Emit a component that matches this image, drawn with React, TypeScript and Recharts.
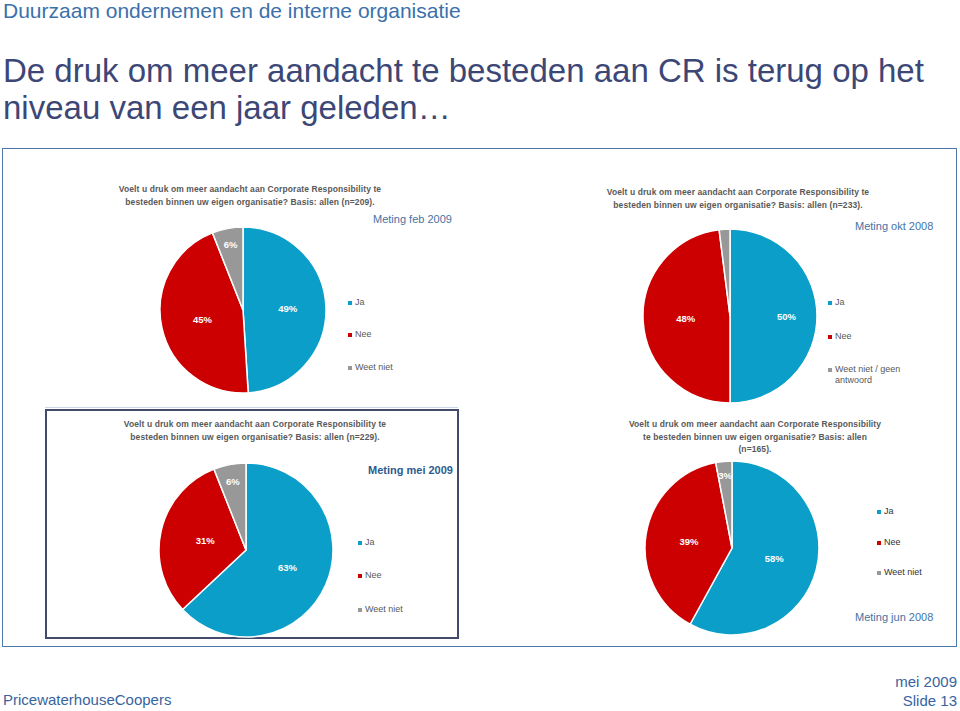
import React from 'react';
import { PieChart, Pie, Cell } from 'recharts';

// categories per meting
const categories = ['Ja', 'Nee', 'Weet niet'];
const oktCategories = ['Ja', 'Nee', 'Weet niet / geen antwoord'];

// percentages
const febValues = [49, 45, 6];
const oktValues = [50, 48, 2];
const meiValues = [63, 31, 6];
const junValues = [58, 39, 3];

const COLORS = ['#0a9ec8', '#cc0000', '#989898'];
const FONT = '"Liberation Sans", Arial, sans-serif';

const toRows = (cats: string[], vals: number[]) =>
  cats.map((name, i) => ({ name, value: vals[i] }));

type Panel = {
  key: string;
  rows: { name: string; value: number }[];
  cx: number;
  cy: number;
  r: number;
  labelR: number[]; // 0 = no label
};

const panels: Panel[] = [
  { key: 'feb', rows: toRows(categories, febValues), cx: 238, cy: 305, r: 83, labelR: [0.54, 0.5, 0.8] },
  { key: 'okt', rows: toRows(oktCategories, oktValues), cx: 725, cy: 311, r: 87, labelR: [0.65, 0.51, 0] },
  { key: 'mei', rows: toRows(categories, meiValues), cx: 241, cy: 545, r: 87, labelR: [0.52, 0.48, 0.8] },
  { key: 'jun', rows: toRows(categories, junValues), cx: 727, cy: 543, r: 87, labelR: [0.5, 0.5, 0.84] },
];

const makeLabel = (factors: number[]) => (props: any) => {
  const { cx, cy, midAngle, outerRadius, index, value } = props;
  const f = factors[index];
  if (!f) return null;
  const RAD = Math.PI / 180;
  const x = cx + outerRadius * f * Math.cos(-midAngle * RAD);
  const y = cy + outerRadius * f * Math.sin(-midAngle * RAD);
  return (
    <text
      x={x}
      y={y}
      fill="#fff"
      fontSize={9.5}
      fontWeight="bold"
      fontFamily={FONT}
      textAnchor="middle"
      dominantBaseline="central"
    >
      {`${value}%`}
    </text>
  );
};

function Question({ lines, cx, top }: { lines: string[]; cx: number; top: number }) {
  return (
    <div
      style={{
        position: 'absolute',
        left: cx - 170,
        top,
        width: 340,
        textAlign: 'center',
        fontSize: 8.5,
        fontWeight: 'bold',
        lineHeight: '12.5px',
        letterSpacing: 0.1,
        color: '#595959',
      }}
    >
      {lines.map((l) => (
        <div key={l}>{l}</div>
      ))}
    </div>
  );
}

function LegendBox({
  items,
  x,
  ys,
  color = '#595959',
}: {
  items: string[];
  x: number;
  ys: number[];
  color?: string;
}) {
  return (
    <>
      {items.map((name, i) => (
        <div key={name} style={{ position: 'absolute', left: x, top: ys[i] - 6, fontSize: 9, lineHeight: '11px', color }}>
          <span
            style={{
              position: 'absolute',
              left: 0,
              top: 4,
              width: 4,
              height: 4,
              background: COLORS[i],
            }}
          />
          <div style={{ marginLeft: 7, width: 70 }}>{name}</div>
        </div>
      ))}
    </>
  );
}

function Meting({ text, x, y, bold = false }: { text: string; x: number; y: number; bold?: boolean }) {
  return (
    <div
      style={{
        position: 'absolute',
        left: x,
        top: y - 7,
        fontSize: 11,
        lineHeight: '14px',
        fontWeight: bold ? 'bold' : 'normal',
        color: bold ? '#2e5b8f' : '#4573a3',
        whiteSpace: 'nowrap',
      }}
    >
      {text}
    </div>
  );
}

export default function App() {
  return (
    <div
      style={{
        position: 'absolute',
        left: 0,
        top: 0,
        width: 960,
        height: 711,
        background: '#fff',
        fontFamily: FONT,
        overflow: 'hidden',
      }}
    >
      <div style={{ position: 'absolute', left: 3, top: 0, fontSize: 21, lineHeight: '22px', color: '#3b70ab', whiteSpace: 'nowrap' }}>
        Duurzaam ondernemen en de interne organisatie
      </div>
      <div style={{ position: 'absolute', left: 3, top: 52, fontSize: 33, lineHeight: '37px', color: '#3c4776', whiteSpace: 'nowrap' }}>
        <div>De druk om meer aandacht te besteden aan CR is terug op het</div>
        <div>niveau van een jaar geleden…</div>
      </div>

      {/* frames */}
      <div style={{ position: 'absolute', left: 2, top: 148, width: 953, height: 497, border: '1.5px solid #5079a9' }} />
      <div style={{ position: 'absolute', left: 45, top: 407, width: 413, height: 1, background: '#cbd7e6' }} />
      <div style={{ position: 'absolute', left: 45, top: 409, width: 410, height: 226, border: '2px solid #444a6b' }} />

      <div style={{ position: 'absolute', left: 0, top: 0 }}>
        <PieChart width={960} height={711}>
          {panels.map((p) => (
            <Pie
              key={p.key}
              data={p.rows}
              dataKey="value"
              nameKey="name"
              cx={p.cx}
              cy={p.cy}
              outerRadius={p.r}
              startAngle={90}
              endAngle={-270}
              stroke="#fff"
              strokeWidth={1.5}
              labelLine={false}
              label={makeLabel(p.labelR)}
              isAnimationActive={false}
            >
              {p.rows.map((row, i) => (
                <Cell key={row.name} fill={COLORS[i]} />
              ))}
            </Pie>
          ))}
        </PieChart>
      </div>

      {/* feb 2009 */}
      <Question
        cx={250}
        top={183}
        lines={['Voelt u druk om meer aandacht aan Corporate Responsibility te', 'besteden binnen uw eigen organisatie? Basis: allen (n=209).']}
      />
      <Meting text="Meting feb 2009" x={373} y={219} />
      <LegendBox items={categories} x={348} ys={[303, 335, 368]} />

      {/* okt 2008 */}
      <Question
        cx={738}
        top={186}
        lines={['Voelt u druk om meer aandacht aan Corporate Responsibility te', 'besteden binnen uw eigen organisatie? Basis: allen (n=233).']}
      />
      <Meting text="Meting okt 2008" x={855} y={226} />
      <LegendBox items={oktCategories} x={828} ys={[303, 337, 370]} />

      {/* mei 2009 */}
      <Question
        cx={255}
        top={418}
        lines={['Voelt u druk om meer aandacht aan Corporate Responsibility te', 'besteden binnen uw eigen organisatie? Basis: allen (n=229).']}
      />
      <Meting text="Meting mei 2009" x={368} y={470} bold />
      <LegendBox items={categories} x={358} ys={[543, 576, 610]} />

      {/* jun 2008 */}
      <Question
        cx={755}
        top={418}
        lines={['Voelt u druk om meer aandacht aan Corporate Responsibility', 'te besteden binnen uw eigen organisatie? Basis: allen', '(n=165).']}
      />
      <Meting text="Meting jun 2008" x={855} y={617} />
      <LegendBox items={categories} x={877} ys={[512, 543, 573]} color="#333" />

      {/* footer */}
      <div style={{ position: 'absolute', left: 3, top: 691, fontSize: 15, lineHeight: '18px', color: '#3764a0' }}>
        PricewaterhouseCoopers
      </div>
      <div style={{ position: 'absolute', right: 3, top: 672, fontSize: 15, lineHeight: '19px', color: '#3764a0', textAlign: 'right' }}>
        <div>mei 2009</div>
        <div>Slide 13</div>
      </div>
    </div>
  );
}
